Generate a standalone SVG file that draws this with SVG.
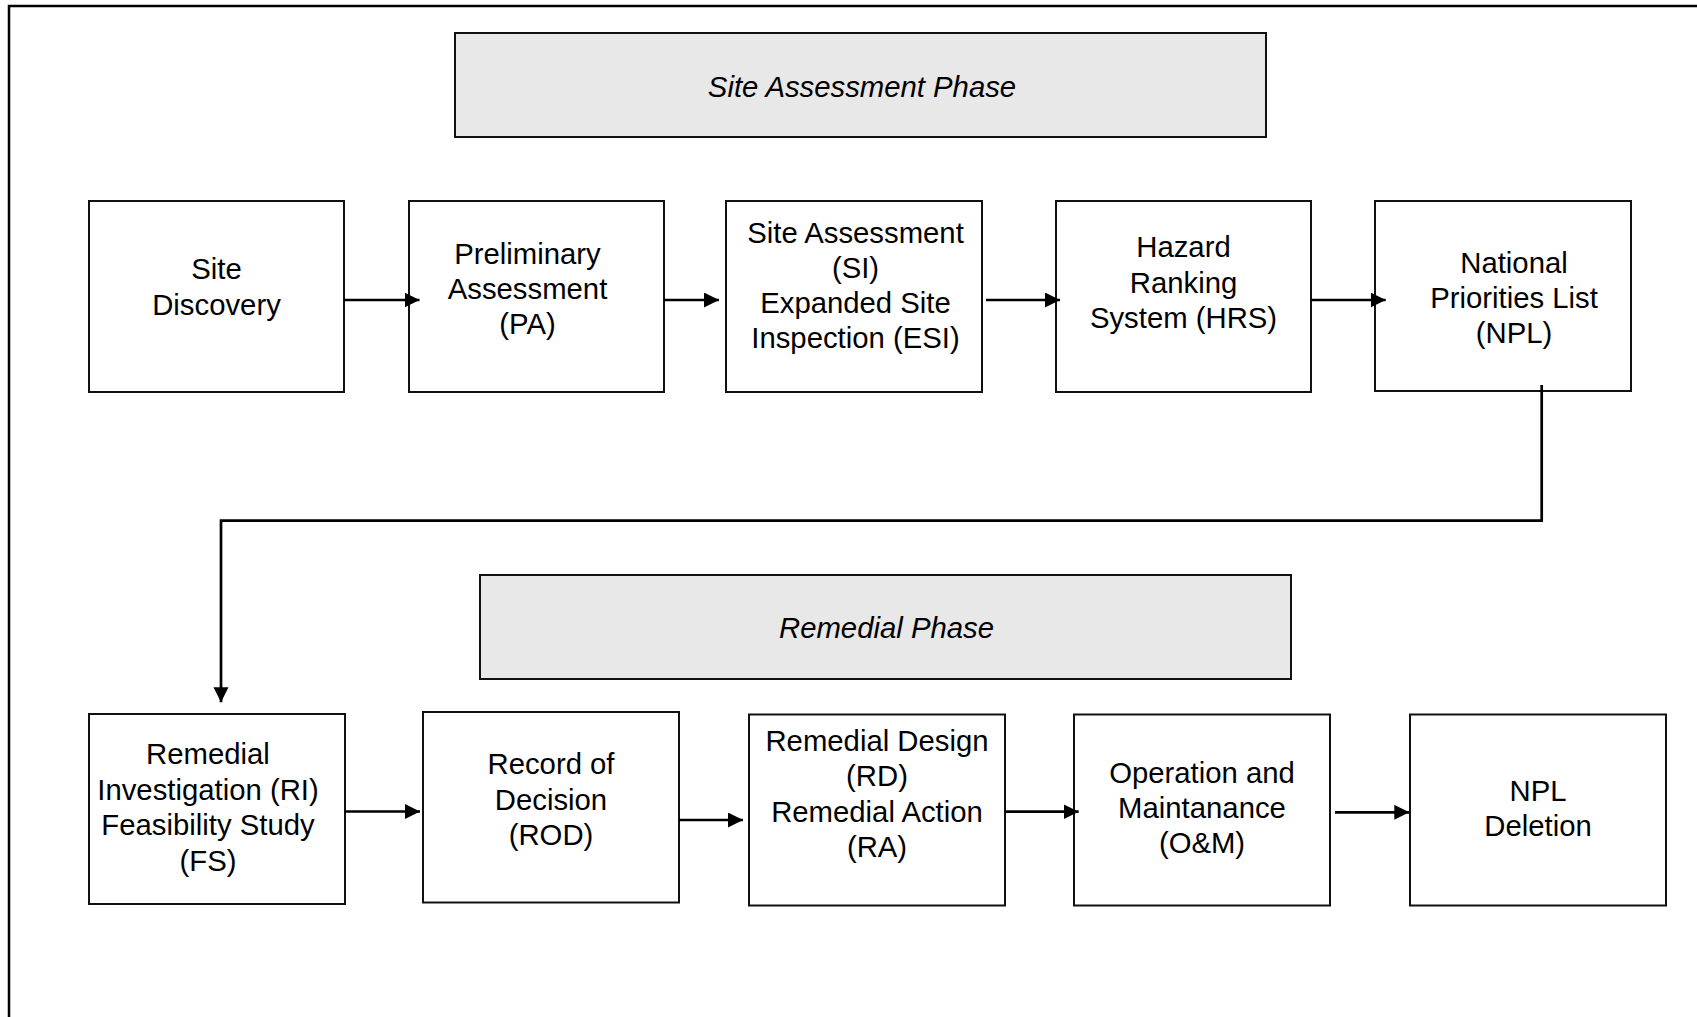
<svg xmlns="http://www.w3.org/2000/svg" width="1697" height="1017" viewBox="0 0 1697 1017">
  <style>
    .frame { fill: none; stroke: #000; stroke-width: 2.5; }
    .box { fill: #fff; stroke: #111; stroke-width: 2; }
    .phase { fill: #e8e8e8; stroke: #111; stroke-width: 2; }
    .lbl { font-family: "Liberation Sans", Arial, sans-serif; font-size: 29.3px; fill: #000; text-anchor: middle; }
    .phase-lbl { font-style: italic; }
    .conn { fill: none; stroke: #000; stroke-width: 2.7; marker-end: url(#arrow); }
  </style>
  <defs>
    <marker id="arrow" markerUnits="userSpaceOnUse" markerWidth="16" markerHeight="16" refX="15" refY="7.5" orient="auto">
      <path d="M0,0 L15,7.5 L0,15 z" fill="#000"/>
    </marker>
  </defs>

  <rect fill="#fff" x="0" y="0" width="1697" height="1017"/>
  <!-- page frame, open at the right and bottom edges -->
  <rect class="frame" x="9" y="6" width="1720" height="1040"/>

  <!-- phase banners -->
  <g id="site-assessment-phase">
    <rect class="phase" x="455" y="33" width="811" height="104"/>
    <text class="lbl phase-lbl" x="862" y="96.5">Site Assessment Phase</text>
  </g>
  <g id="remedial-phase">
    <rect class="phase" x="480" y="575" width="811" height="104"/>
    <text class="lbl phase-lbl" x="886.5" y="638">Remedial Phase</text>
  </g>

  <!-- site assessment steps -->
  <g id="site-discovery">
    <rect class="box" x="89" y="201" width="255" height="191"/>
    <text class="lbl" x="216.5" y="278.5">Site</text>
    <text class="lbl" x="216.5" y="314.5">Discovery</text>
  </g>
  <g id="preliminary-assessment">
    <rect class="box" x="409" y="201" width="255" height="191"/>
    <text class="lbl" x="527.5" y="263.5">Preliminary</text>
    <text class="lbl" x="527.5" y="299">Assessment</text>
    <text class="lbl" x="527.5" y="334">(PA)</text>
  </g>
  <g id="site-inspection">
    <rect class="box" x="726" y="201" width="256" height="191"/>
    <text class="lbl" x="855.5" y="242.5">Site Assessment</text>
    <text class="lbl" x="855.5" y="277.5">(SI)</text>
    <text class="lbl" x="855.5" y="312.5">Expanded Site</text>
    <text class="lbl" x="855.5" y="347.5">Inspection (ESI)</text>
  </g>
  <g id="hazard-ranking">
    <rect class="box" x="1056" y="201" width="255" height="191"/>
    <text class="lbl" x="1183.5" y="257">Hazard</text>
    <text class="lbl" x="1183.5" y="292.5">Ranking</text>
    <text class="lbl" x="1183.5" y="327.5">System (HRS)</text>
  </g>
  <g id="npl">
    <rect class="box" x="1375" y="201" width="256" height="190"/>
    <text class="lbl" x="1514" y="272.7">National</text>
    <text class="lbl" x="1514" y="307.7">Priorities List</text>
    <text class="lbl" x="1514" y="342.7">(NPL)</text>
  </g>

  <!-- remedial steps -->
  <g id="ri-fs">
    <rect class="box" x="89" y="714" width="256" height="190"/>
    <text class="lbl" x="208" y="764">Remedial</text>
    <text class="lbl" x="208" y="799.5">Investigation (RI)</text>
    <text class="lbl" x="208" y="835">Feasibility Study</text>
    <text class="lbl" x="208" y="870.5">(FS)</text>
  </g>
  <g id="rod">
    <rect class="box" x="423" y="712" width="256" height="190.5"/>
    <text class="lbl" x="551" y="774">Record of</text>
    <text class="lbl" x="551" y="809.5">Decision</text>
    <text class="lbl" x="551" y="845">(ROD)</text>
  </g>
  <g id="rd-ra">
    <rect class="box" x="749" y="714.5" width="256" height="191"/>
    <text class="lbl" x="877" y="751">Remedial Design</text>
    <text class="lbl" x="877" y="786">(RD)</text>
    <text class="lbl" x="877" y="821.5">Remedial Action</text>
    <text class="lbl" x="877" y="857">(RA)</text>
  </g>
  <g id="om">
    <rect class="box" x="1074" y="714.5" width="256" height="191"/>
    <text class="lbl" x="1202" y="782.5">Operation and</text>
    <text class="lbl" x="1202" y="817.7">Maintanance</text>
    <text class="lbl" x="1202" y="852.6">(O&amp;M)</text>
  </g>
  <g id="npl-deletion">
    <rect class="box" x="1410" y="714.5" width="256" height="191"/>
    <text class="lbl" x="1538" y="800.5">NPL</text>
    <text class="lbl" x="1538" y="835.5">Deletion</text>
  </g>

  <!-- connectors -->
  <g id="connectors">
    <path class="conn" d="M344,300 H419.5"/>
    <path class="conn" d="M664,300 H719"/>
    <path class="conn" d="M986,300 H1060"/>
    <path class="conn" d="M1311.5,300 H1385.7"/>
    <path class="conn" d="M1541.7,385 V520.6 H221 V702.3"/>
    <path class="conn" d="M345,811.5 H420"/>
    <path class="conn" d="M679,820 H743"/>
    <path class="conn" d="M1005,811.7 H1078.6"/>
    <path class="conn" d="M1335,812.3 H1409.3"/>
  </g>
</svg>
